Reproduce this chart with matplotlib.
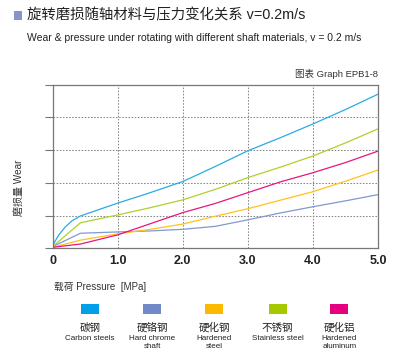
import matplotlib
matplotlib.use("Agg")
import matplotlib.pyplot as plt
from matplotlib.patches import Rectangle

FAM = ['Liberation Sans', 'Noto Sans CJK SC']
CJK = ['Noto Sans CJK SC', 'Liberation Sans']
plt.rcParams['font.family'] = FAM

# ---- data ----
x_carbon = [0, 0.1, 0.2, 0.3, 0.43, 1, 1.5, 2, 2.5, 3, 3.5, 4, 4.5, 5]
y_carbon = [0.08, 0.42, 0.66, 0.84, 0.99, 1.38, 1.70, 2.04, 2.50, 2.98, 3.38, 3.80, 4.24, 4.71]

x_chrome = [0, 0.43, 1, 1.5, 2, 2.5, 3, 3.5, 4, 4.5, 5]
y_chrome = [0.05, 0.46, 0.50, 0.53, 0.58, 0.67, 0.87, 1.08, 1.27, 1.45, 1.64]

x_hsteel = [0, 0.43, 1, 1.5, 2, 2.5, 3, 3.5, 4, 4.5, 5]
y_hsteel = [0.03, 0.25, 0.44, 0.58, 0.74, 0.98, 1.21, 1.47, 1.73, 2.05, 2.39]

x_stain = [0, 0.43, 1, 1.5, 2, 2.5, 3, 3.5, 4, 4.5, 5]
y_stain = [0.05, 0.78, 1.02, 1.24, 1.48, 1.80, 2.16, 2.48, 2.82, 3.22, 3.65]

x_alu = [0, 0.43, 1, 1.5, 2, 2.5, 3, 3.5, 4, 4.5, 5]
y_alu = [0.03, 0.13, 0.41, 0.75, 1.09, 1.37, 1.70, 2.03, 2.31, 2.62, 2.97]

x_ticks = [0, 1, 2, 3, 4, 5]
x_tick_labels = ['0', '1.0', '2.0', '3.0', '4.0', '5.0']
y_ticks = [0, 1, 2, 3, 4, 5]

names_cn = ['碳钢', '硬铬钢', '硬化钢', '不锈钢', '硬化铝']
names_en = ['Carbon steels', 'Hard chrome\nshaft', 'Hardened\nsteel', 'Stainless steel', 'Hardened\naluminum']
colors = ['#00A0E9', '#7289C8', '#FBBA00', '#A6C800', '#E5007F']
line_colors = ['#29ABE6', '#8098D2', '#FFC21A', '#B0D02A', '#E8157F']

series = [(x_carbon, y_carbon), (x_chrome, y_chrome), (x_hsteel, y_hsteel),
          (x_stain, y_stain), (x_alu, y_alu)]

W, H = 400, 360
fig = plt.figure(figsize=(4, 3.6), dpi=100)
ax = fig.add_axes([52.5 / W, 1 - 248.3 / H, (378 - 52.5) / W, (248.3 - 84.7) / H])

for (xs, ys), c in zip(series, line_colors):
    ax.plot(xs, ys, color=c, lw=0.9, solid_joinstyle='round')

ax.set_xlim(0, 5)
ax.set_ylim(0, 5)
ax.set_xticks(x_ticks)
ax.set_xticklabels(x_tick_labels, fontsize=9, fontweight='bold', color='#222')
ax.set_yticks(y_ticks)
ax.set_yticklabels([])
ax.tick_params(axis='x', length=0, pad=5)
ax.tick_params(axis='y', length=6, width=0.8, color='#777', direction='out')
for s in ax.spines.values():
    s.set_color('#777')
    s.set_linewidth(0.9)
ax.grid(True, axis='both', linestyle=(0, (1.5, 1.5)), color='#888', lw=0.75)
ax.set_axisbelow(True)

# titles
fig.add_artist(Rectangle((14 / W, 1 - 20 / H), 8 / W, 9 / H, transform=fig.transFigure,
                         color='#8495CF', lw=0))
fig.text(27 / W, 1 - 15 / H, '旋转磨损随轴材料与压力变化关系 v=0.2m/s', fontsize=10.4,
         family=FAM, va='center', ha='left', color='#222')
fig.text(27 / W, 1 - 38 / H,
         'Wear & pressure under rotating with different shaft materials, v = 0.2 m/s',
         fontsize=7.5, va='center', ha='left', color='#222')
fig.text(378 / W, 1 - 74 / H, '图表 Graph EPB1-8', fontsize=6.8, family=FAM,
         va='center', ha='right', color='#333')

# axis labels
fig.text(19 / W, 1 - 188 / H, '磨损量 Wear', fontsize=7.2, family=FAM, rotation=90,
         va='center', ha='center', color='#333')
fig.text(54 / W, 1 - 287 / H, '载荷 Pressure  [MPa]', fontsize=7.0, family=FAM,
         va='center', ha='left', color='#333')

# legend
centers = [90, 152.3, 214, 277.7, 339.3]
for cx, c, cn, en in zip(centers, colors, names_cn, names_en):
    fig.add_artist(Rectangle(((cx - 9) / W, 1 - 313.5 / H), 18 / W, 10 / H,
                             transform=fig.transFigure, color=c, lw=0))
    fig.text(cx / W, 1 - 330.5 / H, cn, fontsize=7.6, family=CJK, ha='center',
             va='baseline', color='#222')
    fig.text(cx / W, 1 - 334.5 / H, en, fontsize=5.8, ha='center', va='top',
             color='#222', linespacing=1.3)

fig.savefig('out.png', dpi=100)
